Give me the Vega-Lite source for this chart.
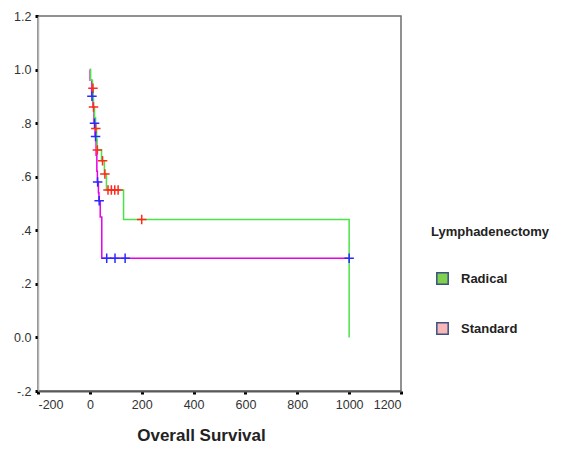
{
  "$schema": "https://vega.github.io/schema/vega-lite/v6.json",
  "width": 363,
  "height": 375,
  "autosize": {"type": "none"},
  "padding": {"left": 38, "top": 16, "right": 173, "bottom": 59},
  "background": "white",
  "config": {
    "view": {"stroke": "#6e6e6e", "strokeWidth": 1.5},
    "font": "Liberation Sans",
    "axis": {"grid": false, "labelFont": "Liberation Sans", "labelFontSize": 12.5, "labelColor": "#333333", "tickColor": "#000000", "tickSize": 3, "tickWidth": 3}
  },
  "datasets": {
    "curves": [
      {"group": "Standard", "t": 0, "s": 1.0},
      {"group": "Standard", "t": 1, "s": 0.96},
      {"group": "Standard", "t": 7, "s": 0.9},
      {"group": "Standard", "t": 12, "s": 0.86},
      {"group": "Standard", "t": 16, "s": 0.8},
      {"group": "Standard", "t": 20, "s": 0.75},
      {"group": "Standard", "t": 24, "s": 0.68},
      {"group": "Standard", "t": 27, "s": 0.62},
      {"group": "Standard", "t": 29, "s": 0.58},
      {"group": "Standard", "t": 33, "s": 0.54},
      {"group": "Standard", "t": 35, "s": 0.51},
      {"group": "Standard", "t": 40, "s": 0.45},
      {"group": "Standard", "t": 46, "s": 0.296},
      {"group": "Standard", "t": 1000, "s": 0.296},
      {"group": "Radical", "t": 0, "s": 1.0},
      {"group": "Radical", "t": 3, "s": 0.96},
      {"group": "Radical", "t": 10, "s": 0.93},
      {"group": "Radical", "t": 13, "s": 0.89},
      {"group": "Radical", "t": 14, "s": 0.86},
      {"group": "Radical", "t": 18, "s": 0.82},
      {"group": "Radical", "t": 22, "s": 0.78},
      {"group": "Radical", "t": 26, "s": 0.74},
      {"group": "Radical", "t": 28, "s": 0.7},
      {"group": "Radical", "t": 45, "s": 0.66},
      {"group": "Radical", "t": 56, "s": 0.61},
      {"group": "Radical", "t": 64, "s": 0.55},
      {"group": "Radical", "t": 130, "s": 0.44},
      {"group": "Radical", "t": 1000, "s": 0.0}
    ],
    "censor": [
      {"group": "Radical", "t": 12, "s": 0.93},
      {"group": "Radical", "t": 14, "s": 0.86},
      {"group": "Radical", "t": 23, "s": 0.78},
      {"group": "Radical", "t": 29, "s": 0.7},
      {"group": "Radical", "t": 49, "s": 0.66},
      {"group": "Radical", "t": 58, "s": 0.61},
      {"group": "Radical", "t": 70, "s": 0.55},
      {"group": "Radical", "t": 83, "s": 0.55},
      {"group": "Radical", "t": 96, "s": 0.55},
      {"group": "Radical", "t": 109, "s": 0.55},
      {"group": "Radical", "t": 200, "s": 0.44},
      {"group": "Standard", "t": 8, "s": 0.9},
      {"group": "Standard", "t": 18, "s": 0.8},
      {"group": "Standard", "t": 22, "s": 0.75},
      {"group": "Standard", "t": 30, "s": 0.58},
      {"group": "Standard", "t": 36, "s": 0.51},
      {"group": "Standard", "t": 65, "s": 0.296},
      {"group": "Standard", "t": 97, "s": 0.296},
      {"group": "Standard", "t": 136, "s": 0.296},
      {"group": "Standard", "t": 1000, "s": 0.296}
    ]
  },
  "layer": [
    {
      "data": {"name": "curves"},
      "mark": {"type": "line", "interpolate": "step-after", "strokeWidth": 1.5},
      "encoding": {
        "x": {
          "field": "t", "type": "quantitative",
          "scale": {"domain": [-200, 1200], "nice": false, "zero": false},
          "axis": {
            "values": [-200, 0, 200, 400, 600, 800, 1000, 1200],
            "labelExpr": "datum.value < 0 ? '-' + abs(datum.value) : '' + datum.value",
            "domainColor": "#5a5a5a", "domainWidth": 2,
            "labelPadding": 4,
            "title": "Overall Survival",
            "titleFont": "Liberation Sans", "titleFontSize": 17, "titleFontWeight": "bold", "titleColor": "#222222",
            "titleX": 163, "titleY": 44, "titleAlign": "center", "titleBaseline": "middle"
          }
        },
        "y": {
          "field": "s", "type": "quantitative",
          "scale": {"domain": [-0.2, 1.2], "nice": false, "zero": false},
          "axis": {
            "values": [-0.2, 0, 0.2, 0.4, 0.6, 0.8, 1.0, 1.2],
            "labelExpr": "datum.value < -0.1 ? '-.2' : datum.value < 0.1 ? '0.0' : datum.value < 0.3 ? '.2' : datum.value < 0.5 ? '.4' : datum.value < 0.7 ? '.6' : datum.value < 0.9 ? '.8' : datum.value < 1.1 ? '1.0' : '1.2'",
            "domainColor": "#b4b4b4", "domainWidth": 1.5,
            "labelPadding": 4,
            "title": null
          }
        },
        "color": {
          "field": "group", "type": "nominal",
          "scale": {"range": ["#48e448", "#e600e6"]},
          "legend": null
        }
      }
    },
    {
      "data": {"name": "censor"},
      "mark": {"type": "point", "shape": "M-1,0L1,0M0,-1L0,1", "size": 90, "strokeWidth": 1.5, "filled": true, "opacity": 1},
      "encoding": {
        "x": {"field": "t", "type": "quantitative"},
        "y": {"field": "s", "type": "quantitative"},
        "stroke": {
          "field": "group", "type": "nominal",
          "scale": {"range": ["#ff2a1a", "#2a2aff"]},
          "legend": null
        },
        "fill": {
          "field": "group", "type": "nominal",
          "scale": {"domain": ["Radical", "Standard"], "range": ["#80d14e", "#f9b8b8"]},
          "legend": {
            "title": "Lymphadenectomy",
            "orient": "none",
            "legendX": 393,
            "legendY": 210,
            "padding": 0,
            "titleFont": "Liberation Sans", "titleFontSize": 13, "titleFontWeight": "bold", "titleColor": "#222222",
            "titlePadding": 33,
            "labelFont": "Liberation Sans", "labelFontSize": 13, "labelFontWeight": "bold", "labelColor": "#222222",
            "labelOffset": 12,
            "symbolType": "square", "symbolSize": 130,
            "symbolOffset": 5,
            "symbolStrokeColor": "#3b5083",
            "symbolStrokeWidth": 1.5,
            "symbolOpacity": 1,
            "rowPadding": 31
          }
        }
      }
    }
  ]
}
